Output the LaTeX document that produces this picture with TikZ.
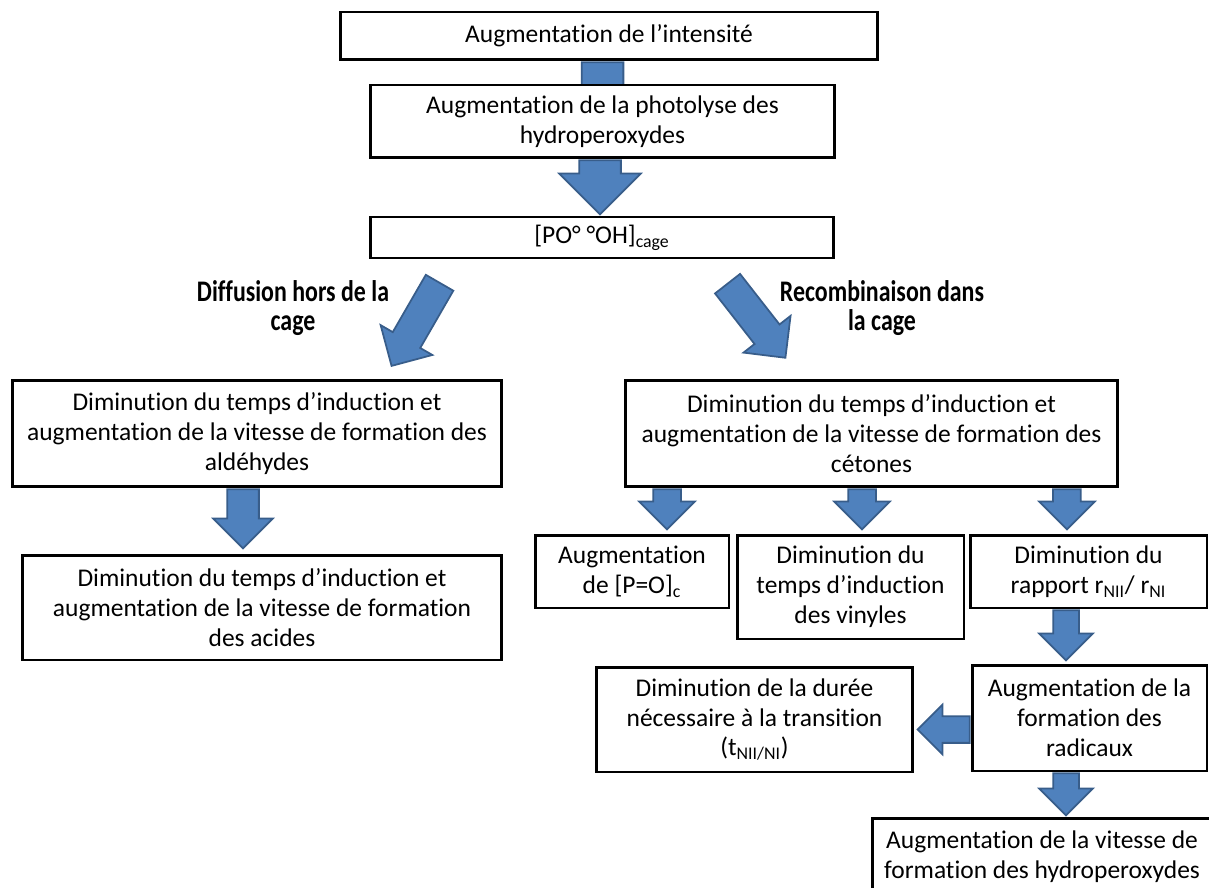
\documentclass[tikz,border=0pt]{standalone}
\usepackage{fontspec}
\setmainfont{Carlito}[Ligatures={NoCommon}]
\newfontfamily\etiqfont[FakeStretch=0.8, Ligatures={NoCommon}]{Carlito}
\usetikzlibrary{backgrounds}
\usetikzlibrary{shapes.arrows}
\definecolor{bleufleche}{HTML}{4F81BD}
\definecolor{bordfleche}{HTML}{385D8A}
\tikzset{
  boite/.style = {draw=black, line width=1.7pt, fill=white, align=center,
    inner sep=0pt, font=\fontsize{14.5}{17}\selectfont},% cadre noir
  etiq/.style = {align=center, inner sep=0pt,
    font=\etiqfont\bfseries\fontsize{17}{17}\selectfont},% texte gras
  fleche/.style n args = {3}{single arrow, draw=bordfleche, fill=bleufleche,
    line width=1pt, inner sep=0pt, inner ysep=#1*0.01cm,
    minimum height=#3*0.02cm, single arrow head extend=(#2-#1)*0.01cm,
    anchor=tail},% fleche bleue : tige, tete, longueur
}

\begin{document}
\begin{tikzpicture}[x=0.02cm, y=-0.02cm]
\useasboundingbox (0,0) rectangle (1209,888);
\clip (0,0) rectangle (1209,888);

\node [boite, minimum width=10.76cm, minimum height=0.96cm] (intens) at (609,36)
  {Augmentation de l’intensité};
\node [boite, minimum width=9.3cm, minimum height=1.46cm] (photol) at (602.5,121.5)
  {Augmentation de la photolyse des\\hydroperoxydes};
\node [boite, minimum width=9.28cm, minimum height=0.82cm] (cage) at (602,237.5)
  {[PO° °OH]\textsubscript{cage}};

\node [etiq] (diffu) at (293,308) {Diffusion hors de la\\cage};
\node [etiq] (recomb) at (882,308) {Recombinaison dans\\la cage};

\node [boite, minimum width=9.8cm, minimum height=2.14cm] (aldeh) at (257,433.5)
  {Diminution du temps d’induction et\\augmentation de la vitesse de formation des\\aldéhydes};
\node [boite, minimum width=9.6cm, minimum height=2.1cm] (acides) at (262,607.5)
  {Diminution du temps d’induction et\\augmentation de la vitesse de formation\\des acides};
\node [boite, minimum width=9.86cm, minimum height=2.14cm] (cetones) at (871.5,433.5)
  {Diminution du temps d’induction et\\augmentation de la vitesse de formation des\\cétones};

\node [boite, minimum width=3.88cm, minimum height=1.46cm] (po) at (632,571.5)
  {Augmentation\\de [P=O]\textsubscript{c}};
\node [boite, minimum width=4.54cm, minimum height=2.08cm] (vinyl) at (850.5,587)
  {Diminution du\\temps d’induction\\des vinyles};
\node [boite, minimum width=4.74cm, minimum height=1.46cm] (rapport) at (1088.5,571.5)
  {Diminution du\\rapport r\textsubscript{NII}/ r\textsubscript{NI}};
\node [boite, minimum width=4.7cm, minimum height=2.12cm] (radic) at (1089.5,718)
  {Augmentation de la\\formation des\\radicaux};
\node [boite, minimum width=6.34cm, minimum height=2.1cm] (duree) at (754.5,719.5)
  {Diminution de la durée\\nécessaire à la transition\\(t\textsubscript{NII/NI})};
\node [boite, minimum width=6.8cm, minimum height=1.56cm] (hydro) at (1042,857)
  {Augmentation de la vitesse de\\formation des hydroperoxydes};

\coordinate (qdiffu) at (440,282);
\coordinate (qrecomb) at (727,283);

\begin{scope}[on background layer]
\node [fleche={40}{80}{70}, rotate=-90] (f1) at (intens.south -| photol) {};
\node [fleche={40}{80}{54}, rotate=-90] (f2) at ([xshift=-0.05cm]photol.south) {};
\node [fleche={30}{58}{96}, rotate=-120] (f3) at (qdiffu) {};
\node [fleche={30}{58}{94}, rotate=-52] (f4) at (qrecomb) {};
\node [fleche={30}{58}{59}, rotate=-90] (f5) at ([xshift=-0.28cm]aldeh.south) {};
\node [fleche={26}{54}{40}, rotate=-90] (f6) at ([xshift=-4.09cm]cetones.south) {};
\node [fleche={26}{54}{40}, rotate=-90] (f7) at ([xshift=-0.19cm]cetones.south) {};
\node [fleche={26}{54}{40}, rotate=-90] (f8) at ([xshift=3.91cm]cetones.south) {};
\node [fleche={24}{52}{50}, rotate=-90] (f9) at ([xshift=-0.45cm]rapport.south) {};
\node [fleche={25}{48}{52}, rotate=180] (f10) at ([yshift=-0.23cm]radic.west) {};
\node [fleche={24}{52}{42}, rotate=-90] (f11) at ([xshift=-0.47cm]radic.south) {};
\end{scope}
\end{tikzpicture}
\end{document}
